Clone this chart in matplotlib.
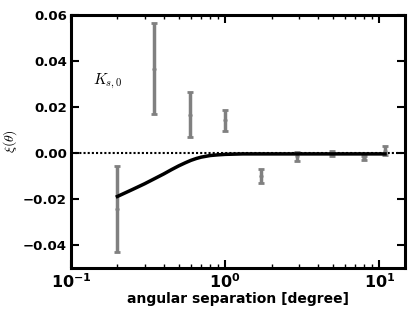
import numpy as np
from matplotlib import pyplot as plt
from matplotlib.ticker import FixedLocator, NullFormatter

# measured points
theta = [0.2, 0.347, 0.59, 1.0, 1.72, 2.92, 4.97, 7.93, 10.9]
xi = [-0.0244, 0.0365, 0.0165, 0.0142, -0.0098, -0.0012, -0.0001, -0.0022, 0.0010]
err_lo = [0.0186, 0.0197, 0.0095, 0.0047, 0.0033, 0.0021, 0.0013, 0.0009, 0.0019]
err_hi = [0.0189, 0.0198, 0.0099, 0.0045, 0.0029, 0.0015, 0.0011, 0.0010, 0.0021]

# model curve
model_theta = [0.2, 0.25, 0.3, 0.35, 0.4, 0.45, 0.5, 0.55, 0.6, 0.65, 0.7, 0.8, 0.9,
               1.0, 1.3, 2.0, 3.0, 5.0, 10.9]
model_xi = [-0.0189, -0.0159, -0.0134, -0.0111, -0.0091, -0.0072, -0.0056, -0.0043,
            -0.0032, -0.0024, -0.0018, -0.0011, -0.0008, -0.0006, -0.0004, -0.0004,
            -0.0004, -0.0004, -0.0004]

xticks = [0.1, 1, 10]
xtick_labels = [r'$\mathbf{10^{-1}}$', r'$\mathbf{10^{0}}$', r'$\mathbf{10^{1}}$']
yticks = [-0.04, -0.02, 0.0, 0.02, 0.04, 0.06]


def main():
    fig = plt.figure(figsize=(4.15, 3.12), dpi=100)
    ax = fig.add_axes([0.171, 0.141, 0.805, 0.811])

    ax.axhline(0, color='black', ls=(0, (1, 1)), lw=1.5, zorder=1)
    ax.errorbar(theta, xi, yerr=[err_lo, err_hi], fmt='o', color='#808080',
                ms=2, elinewidth=2.5, capsize=2, capthick=2, zorder=2)
    ax.plot(model_theta, model_xi, color='black', lw=2.5, zorder=3)

    ax.set_xscale('log')
    ax.set_xlim(0.1, 14.7)
    ax.set_ylim(-0.05, 0.06)

    ax.xaxis.set_major_locator(FixedLocator(xticks))
    ax.set_xticklabels(xtick_labels, fontsize=11.5)
    ax.xaxis.set_minor_formatter(NullFormatter())
    ax.set_yticks(yticks)
    ax.set_yticklabels([f'{v:.2f}'.replace('-', '\u2212') for v in yticks],
                       fontsize=9.5, fontweight='bold')

    ax.tick_params(which='both', direction='in', top=True, right=True)
    ax.tick_params(which='major', length=6, width=1.5, pad=3)
    ax.tick_params(which='minor', length=3, width=1)
    for s in ax.spines.values():
        s.set_linewidth(2.2)

    ax.set_xlabel('angular separation [degree]', fontsize=10, fontweight='bold', labelpad=1)
    ax.set_ylabel(r'$\xi(\theta)$', fontsize=10, math_fontfamily='cm')
    ax.yaxis.set_label_coords(-0.155, 0.5)
    ax.text(0.14, 0.031, r'$K_{s,0}$', fontsize=11, va='center', math_fontfamily='cm')

    fig.savefig('out.png', dpi=100)


if __name__ == '__main__':
    main()
